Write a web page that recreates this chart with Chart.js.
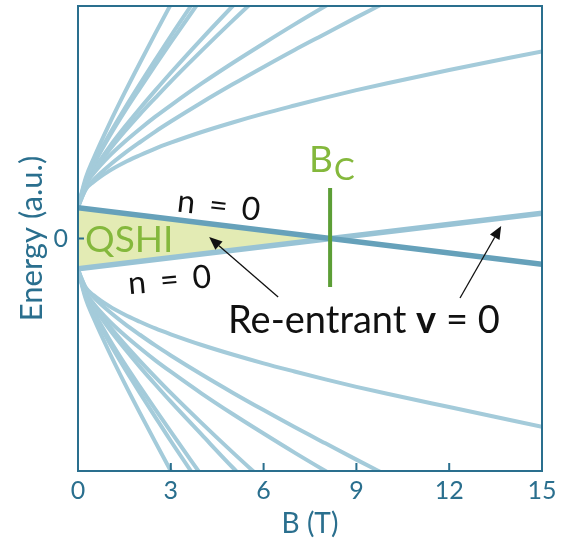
<!DOCTYPE html>
<html>
<head>
<meta charset="utf-8">
<script src="https://cdn.jsdelivr.net/npm/chart.js@4.4.0/dist/chart.umd.min.js"></script>
<style>
  html, body { margin: 0; padding: 0; background: #fff; }
  #wrap { width: 563px; height: 546px; }
</style>
</head>
<body>
<div id="wrap"><canvas id="chart" width="563" height="546"></canvas></div>
<script>
// magnetic field samples (T)
const bField = [0, 0.25, 0.5, 1, 1.5, 2, 2.5, 3, 4, 5, 6, 7, 8, 9, 10, 12, 15];

// Landau levels above the gap (a.u.)
const up1 = [1.35, 2.61, 3.43, 4.89, 6.25, 7.55, 8.82, 10.07, 12.5, null, null, null, null, null, null, null, null];
const up2 = [1.35, 2.50, 3.20, 4.44, 5.57, 6.64, 7.68, 8.71, 10.69, null, null, null, null, null, null, null, null];
const up3 = [1.35, 2.47, 3.16, 4.35, 5.44, 6.46, 7.46, 8.44, 10.34, null, null, null, null, null, null, null, null];
const up4 = [1.35, 2.37, 2.94, 3.91, 4.78, 5.59, 6.37, 7.13, 8.59, 10.0, 11.38, null, null, null, null, null, null];
const up5 = [1.35, 2.33, 2.88, 3.78, 4.59, 5.34, 6.05, 6.75, 8.08, 9.37, 10.62, null, null, null, null, null, null];
const up6 = [1.35, 2.32, 2.79, 3.53, 4.15, 4.71, 5.24, 5.73, 6.67, 7.55, 8.39, 9.21, 10.0, 10.77, null, null, null];
const up7 = [1.35, 2.13, 2.52, 3.13, 3.66, 4.14, 4.60, 5.03, 5.85, 6.63, 7.38, 8.11, 8.81, 9.51, 10.19, null, null];
const up8 = [1.35, 2.11, 2.43, 2.90, 3.27, 3.58, 3.87, 4.12, 4.58, 4.99, 5.37, 5.72, 6.06, 6.38, 6.68, 7.25, 8.05];

// Landau levels below the gap (a.u.)
const dn1 = [-1.35, -2.60, -3.41, -4.86, -6.21, -7.50, -8.76, -10.0, -12.4, null, null, null, null, null, null, null, null];
const dn2 = [-1.35, -2.50, -3.20, -4.44, -5.57, -6.64, -7.68, -8.71, -10.69, null, null, null, null, null, null, null, null];
const dn3 = [-1.35, -2.46, -3.13, -4.30, -5.37, -6.37, -7.35, -8.31, -10.2, null, null, null, null, null, null, null, null];
const dn4 = [-1.35, -2.36, -2.92, -3.87, -4.72, -5.52, -6.28, -7.02, -8.44, -9.85, -11.2, null, null, null, null, null, null];
const dn5 = [-1.35, -2.32, -2.86, -3.74, -4.53, -5.26, -5.96, -6.64, -7.94, -9.2, -10.42, null, null, null, null, null, null];
const dn6 = [-1.35, -2.32, -2.79, -3.53, -4.15, -4.71, -5.24, -5.73, -6.67, -7.55, -8.39, -9.21, -10.0, -10.77, null, null, null];
const dn7 = [-1.35, -2.13, -2.52, -3.13, -3.66, -4.14, -4.60, -5.03, -5.85, -6.63, -7.38, -8.11, -8.81, -9.51, -10.19, null, null];
const dn8 = [-1.35, -2.11, -2.43, -2.90, -3.27, -3.58, -3.87, -4.12, -4.58, -4.99, -5.37, -5.72, -6.06, -6.38, -6.68, -7.25, -8.1];

// n = 0 levels
const n0B = [0, 15];
const n0Upper = [1.32, -1.11];
const n0Lower = [-1.30, 1.09];

// QSHI region, up to the crossing
const qshiB = [0, 8.15];
const qshiTop = [1.32, 0];
const qshiBottom = [-1.30, 0];

// critical field marker
const bcB = [8.15, 8.15];
const bcE = [2.17, -2.09];

const xTicks = [0, 3, 6, 9, 12, 15];

const TEAL = '#2a6f8e';
const FAN = '#a4cbda';
const GREEN_TXT = '#84b83c';

const pts = (xs, ys) => xs.map((x, i) => ({ x, y: ys[i] }));

const fanSet = ys => ({
  data: pts(bField, ys),
  borderColor: FAN, borderWidth: 4, pointRadius: 0,
  cubicInterpolationMode: 'monotone', spanGaps: false, fill: false, order: 3,
});

const decor = {
  id: 'decor',
  afterDraw(chart) {
    const { ctx, chartArea: a, scales: { x, y } } = chart;
    ctx.save();
    // frame
    ctx.strokeStyle = TEAL;
    ctx.lineWidth = 2;
    ctx.strokeRect(a.left, a.top, a.right - a.left, a.bottom - a.top);
    // inward ticks
    ctx.beginPath();
    xTicks.forEach(t => {
      const px = x.getPixelForValue(t);
      ctx.moveTo(px, a.bottom);
      ctx.lineTo(px, a.bottom - 8);
    });
    const y0 = y.getPixelForValue(0);
    ctx.moveTo(a.left, y0);
    ctx.lineTo(a.left + 6, y0);
    ctx.stroke();

    // labels
    ctx.textBaseline = 'alphabetic';
    ctx.textAlign = 'left';
    ctx.fillStyle = GREEN_TXT;
    ctx.font = '37px Lato';
    ctx.fillText('QSHI', x.getPixelForValue(0.23), y.getPixelForValue(-0.58));

    const bx = x.getPixelForValue(7.47);
    ctx.fillText('B', bx, y.getPixelForValue(2.86));
    const bw = ctx.measureText('B').width;
    ctx.font = '31px Lato';
    ctx.fillText('C', bx + bw + 1, y.getPixelForValue(2.52));

    ctx.fillStyle = '#111';
    ctx.font = '32px Lato';
    ctx.textAlign = 'center';
    ctx.letterSpacing = '3px';
    [[4.56, 0.95, 6.5], [3.04, -2.24, -5]].forEach(([b, e, deg]) => {
      ctx.save();
      ctx.translate(x.getPixelForValue(b), y.getPixelForValue(e));
      ctx.rotate(deg * Math.PI / 180);
      ctx.fillText('n = 0', 0, 0);
      ctx.restore();
    });
    ctx.letterSpacing = '0px';

    ctx.textAlign = 'left';
    let tx = x.getPixelForValue(4.85);
    const ty = y.getPixelForValue(-4.06);
    const parts = [['Re-entrant ', '38px Lato'], ['v', 'bold 38px Lato'], [' = 0', '38px Lato']];
    parts.forEach(([s, f]) => {
      ctx.font = f;
      ctx.fillText(s, tx, ty);
      tx += ctx.measureText(s).width;
    });

    // arrows
    const arrow = (b0, e0, b1, e1) => {
      const x0 = x.getPixelForValue(b0), ya = y.getPixelForValue(e0);
      const x1 = x.getPixelForValue(b1), y1 = y.getPixelForValue(e1);
      const ang = Math.atan2(y1 - ya, x1 - x0);
      const hl = 13, hw = 5.5;
      const cx = x1 - hl * Math.cos(ang), cy = y1 - hl * Math.sin(ang);
      ctx.strokeStyle = '#111';
      ctx.lineWidth = 1.3;
      ctx.beginPath();
      ctx.moveTo(x0, ya);
      ctx.lineTo(cx, cy);
      ctx.stroke();
      ctx.fillStyle = '#111';
      ctx.beginPath();
      ctx.moveTo(x1, y1);
      ctx.lineTo(cx + hw * Math.sin(ang), cy - hw * Math.cos(ang));
      ctx.lineTo(cx - hw * Math.sin(ang), cy + hw * Math.cos(ang));
      ctx.closePath();
      ctx.fill();
    };
    arrow(6.47, -2.52, 4.24, 0.06);
    arrow(12.35, -2.56, 13.68, 0.54);
    ctx.restore();
  }
};

new Chart(document.getElementById('chart'), {
  type: 'line',
  data: {
    datasets: [
      { data: pts(bcB, bcE), borderColor: '#5c9e36', borderWidth: 4, pointRadius: 0, fill: false, order: 0 },
      { data: pts(n0B, n0Upper), borderColor: '#66a1ba', borderWidth: 5.5, pointRadius: 0, fill: false, order: 1 },
      { data: pts(n0B, n0Lower), borderColor: '#98c3d5', borderWidth: 5.5, pointRadius: 0, fill: false, order: 2 },
      fanSet(up1), fanSet(up2), fanSet(up3), fanSet(up4),
      fanSet(up5), fanSet(up6), fanSet(up7), fanSet(up8),
      fanSet(dn1), fanSet(dn2), fanSet(dn3), fanSet(dn4),
      fanSet(dn5), fanSet(dn6), fanSet(dn7), fanSet(dn8),
      { data: pts(qshiB, qshiTop), borderWidth: 0, pointRadius: 0, fill: false, order: 5 },
      { data: pts(qshiB, qshiBottom), borderWidth: 0, pointRadius: 0, backgroundColor: '#e3ebb4', fill: '-1', order: 5 },
    ]
  },
  options: {
    responsive: false,
    animation: false,
    layout: { padding: { top: 6, right: 21, left: 0, bottom: 0 } },
    plugins: { legend: { display: false }, tooltip: { enabled: false } },
    scales: {
      x: {
        type: 'linear', min: 0, max: 15,
        grid: { display: false, drawTicks: false },
        border: { display: false },
        ticks: { stepSize: 3, color: TEAL, padding: 5, font: { family: 'Lato', size: 25 } },
        title: { display: true, text: 'B (T)', color: TEAL, padding: { top: 0, bottom: 5 }, font: { family: 'Lato', size: 28 } },
        afterFit(s) { s.height = 75; s.paddingLeft = 0; s.paddingRight = 0; },
      },
      y: {
        type: 'linear', min: -10, max: 10,
        grid: { display: false, drawTicks: false },
        border: { display: false },
        ticks: { stepSize: 10, color: TEAL, padding: 10, font: { family: 'Lato', size: 25 },
                 callback: v => (v === 0 ? '0' : '') },
        title: { display: true, text: 'Energy (a.u.)', color: TEAL, padding: { top: 13, bottom: 0 }, font: { family: 'Lato', size: 31 } },
        afterFit(s) { s.width = 78; s.paddingTop = 0; s.paddingBottom = 0; },
      }
    }
  },
  plugins: [decor]
});
</script>
</body>
</html>
